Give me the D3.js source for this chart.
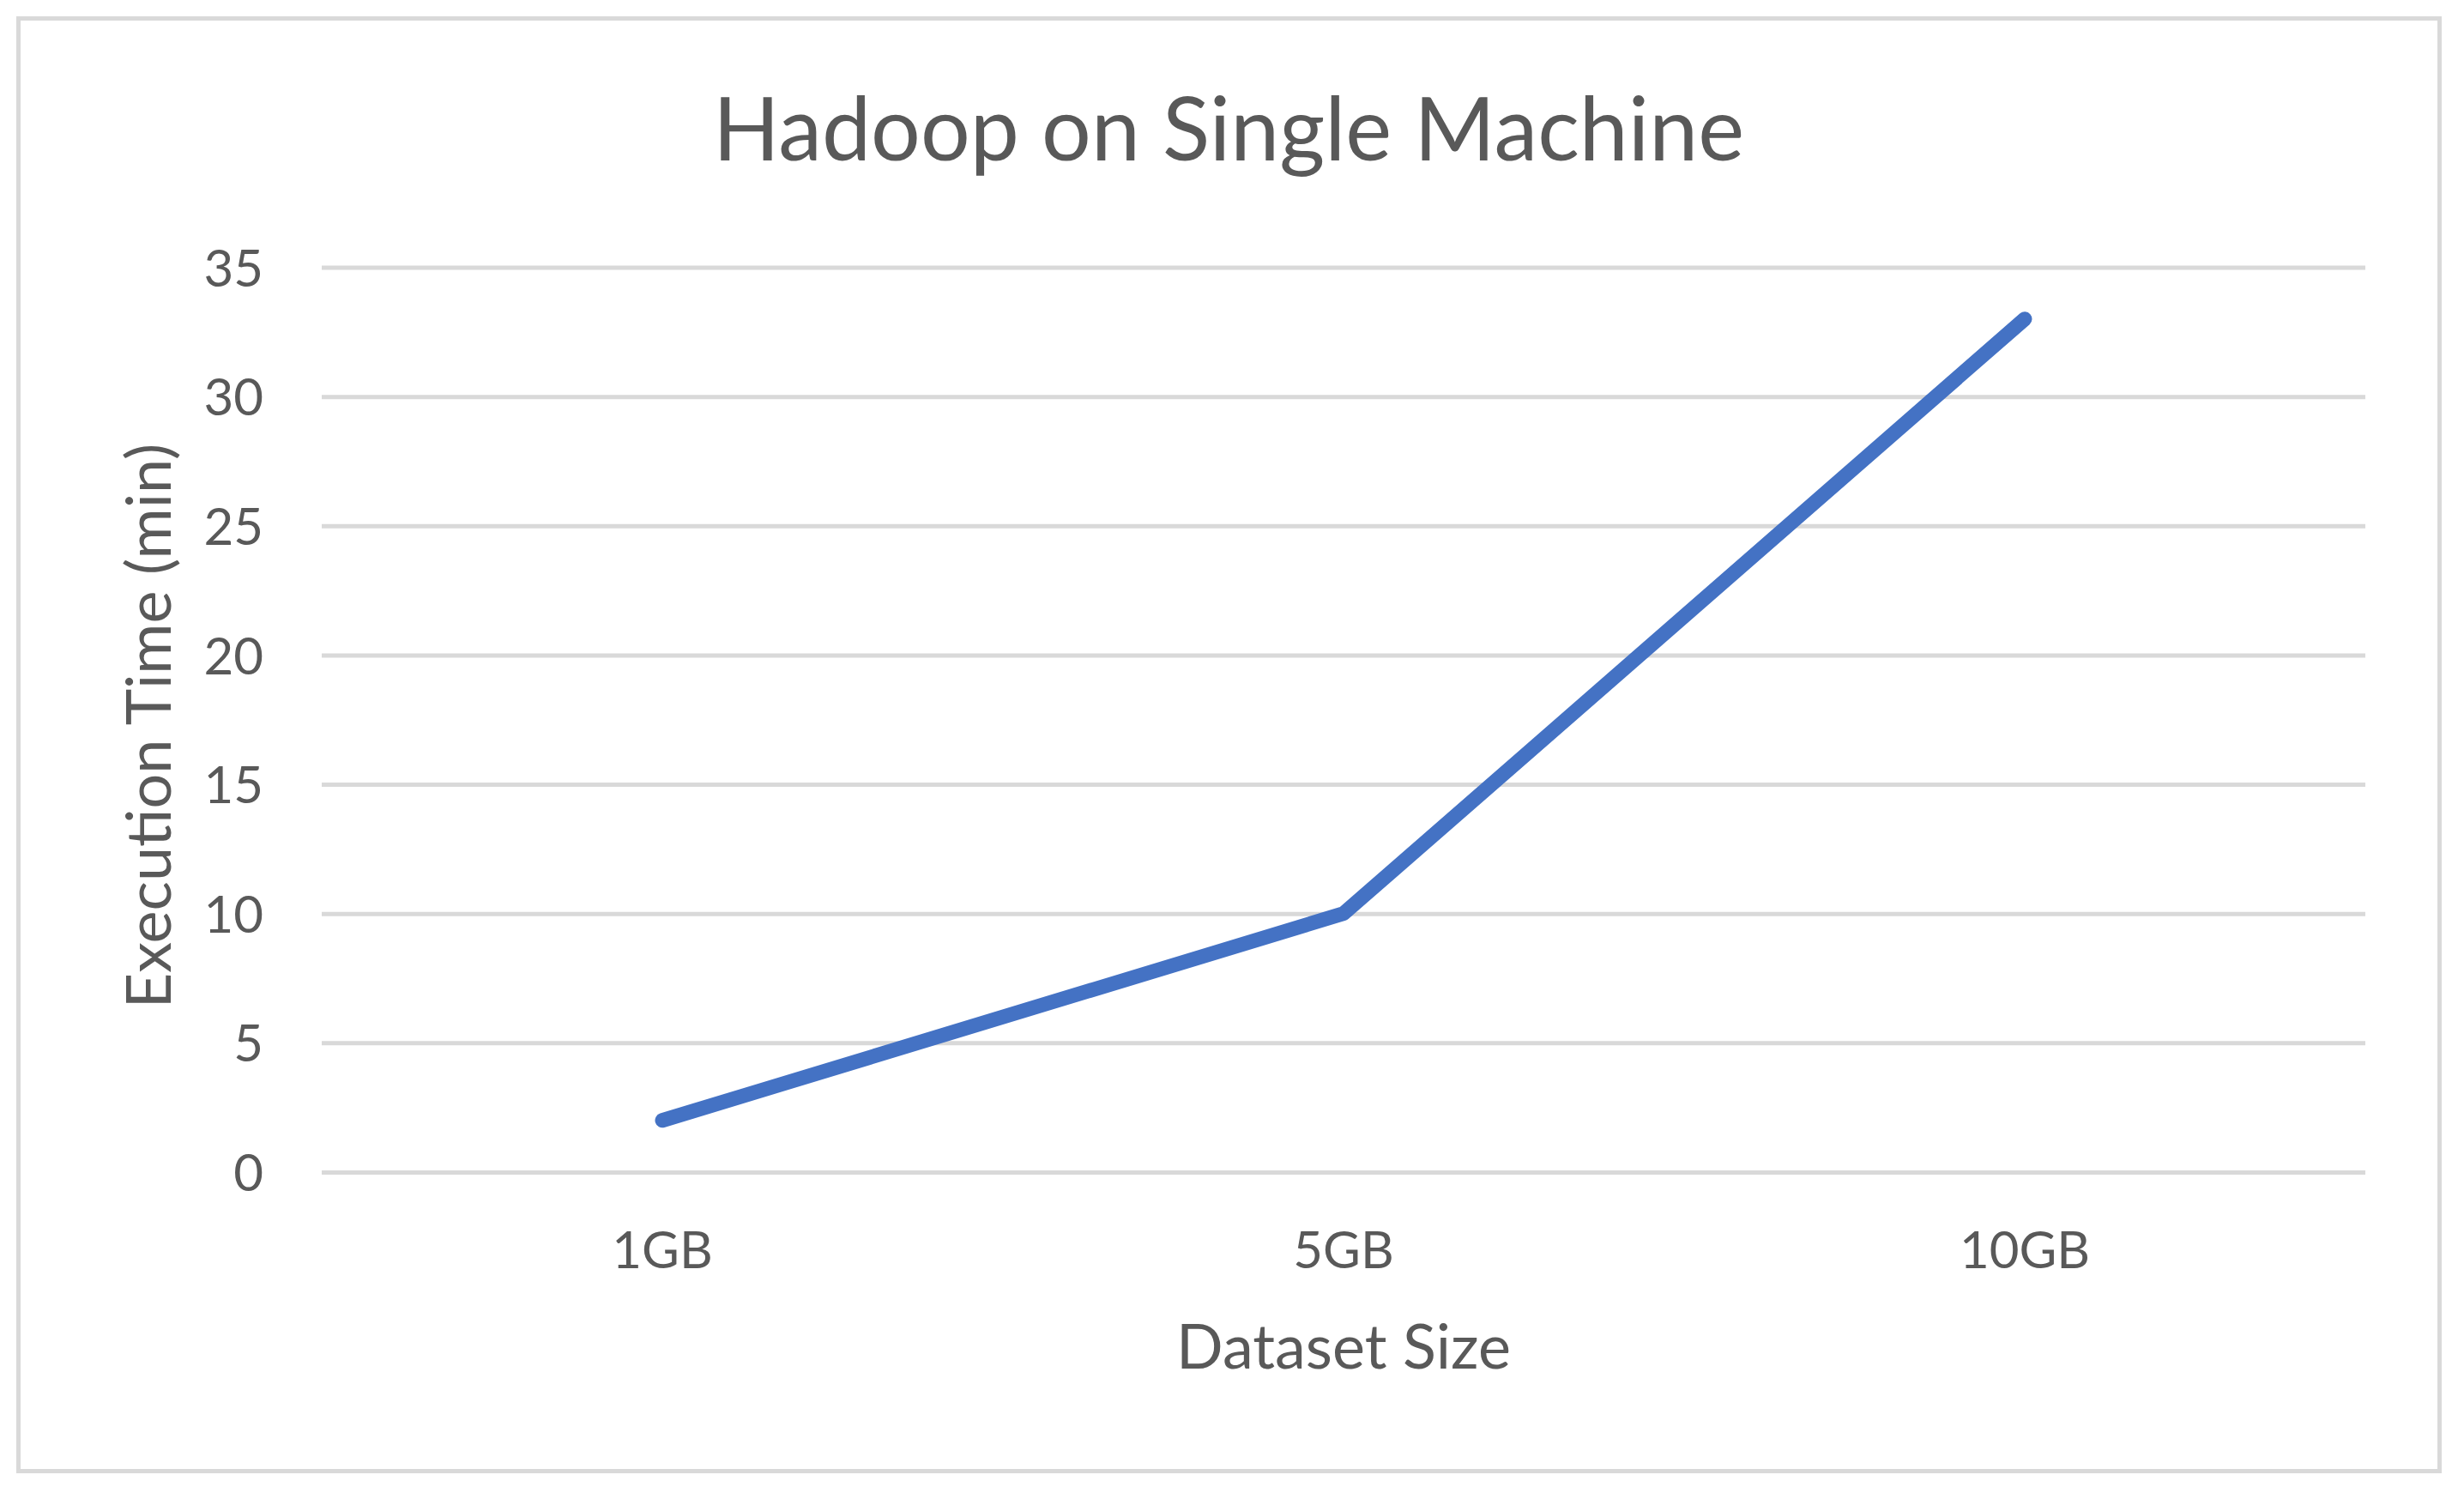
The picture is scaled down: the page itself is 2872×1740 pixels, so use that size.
<!DOCTYPE html>
<html>
<head>
<meta charset="utf-8">
<script src="https://cdn.jsdelivr.net/npm/d3@7"></script>
<style>
  html, body { margin: 0; padding: 0; background: #ffffff; }
  svg { display: block; }
  text { font-family: "Lato", "Open Sans", sans-serif; fill: #595959; }
</style>
</head>
<body>
<script>
const categories = ["1GB", "5GB", "10GB"];
const executionTime = [2, 10, 33];
const yTicks = [0, 5, 10, 15, 20, 25, 30, 35];
const chartTitle = "Hadoop on Single Machine";
const xTitle = "Dataset Size";
const yTitle = "Execution Time (min)";

const W = 2872, H = 1740;
const plot = { left: 375, right: 2757, top: 311.5, bottom: 1366 };

const svg = d3.select("body").append("svg").attr("width", W).attr("height", H);

svg.append("rect").attr("x", 0).attr("y", 0).attr("width", W).attr("height", H).attr("fill", "#ffffff");
svg.append("rect")
  .attr("x", 21.5).attr("y", 21.5).attr("width", 2822).attr("height", 1693)
  .attr("fill", "#ffffff").attr("stroke", "#d9d9d9").attr("stroke-width", 5);

const x = d3.scaleBand().domain(categories).range([plot.left, plot.right]);
const y = d3.scaleLinear().domain([0, 35]).range([plot.bottom, plot.top]);

// Gridlines + y labels
const yAxis = d3.axisLeft(y).tickValues(yTicks).tickSize(-(plot.right - plot.left)).tickPadding(68).tickFormat(d3.format("d"));
const gy = svg.append("g").attr("transform", `translate(${plot.left},0)`).call(yAxis);
gy.select(".domain").remove();
gy.selectAll(".tick line").attr("stroke", "#d9d9d9").attr("stroke-width", 5);
gy.selectAll(".tick text").attr("font-size", 60).attr("fill", "#595959").attr("dy", "0.36em")
  .style("font-family", "Lato, 'Open Sans', sans-serif");

// X labels
const xAxis = d3.axisBottom(x).tickSize(0).tickPadding(69);
const gx = svg.append("g").attr("transform", `translate(0,${plot.bottom})`).call(xAxis);
gx.select(".domain").remove();
gx.selectAll(".tick text").attr("font-size", 60).attr("fill", "#595959")
  .style("font-family", "Lato, 'Open Sans', sans-serif");

// Line
const pts = categories.map((c, i) => ({ c, v: executionTime[i] }));
const line = d3.line().x(d => x(d.c) + x.bandwidth() / 2).y(d => y(d.v));
svg.append("path").datum(pts)
  .attr("d", line)
  .attr("fill", "none").attr("stroke", "#4472C4").attr("stroke-width", 17)
  .attr("stroke-linecap", "round").attr("stroke-linejoin", "round");

// Titles
svg.append("text").attr("x", 1432).attr("y", 187).attr("text-anchor", "middle")
  .attr("font-size", 102).text(chartTitle);
svg.append("text").attr("x", (plot.left + plot.right) / 2).attr("y", 1595).attr("text-anchor", "middle")
  .attr("font-size", 72).text(xTitle);
svg.append("text").attr("transform", "translate(199,846) rotate(-90)").attr("text-anchor", "middle")
  .attr("font-size", 72).text(yTitle);
</script>
</body>
</html>
